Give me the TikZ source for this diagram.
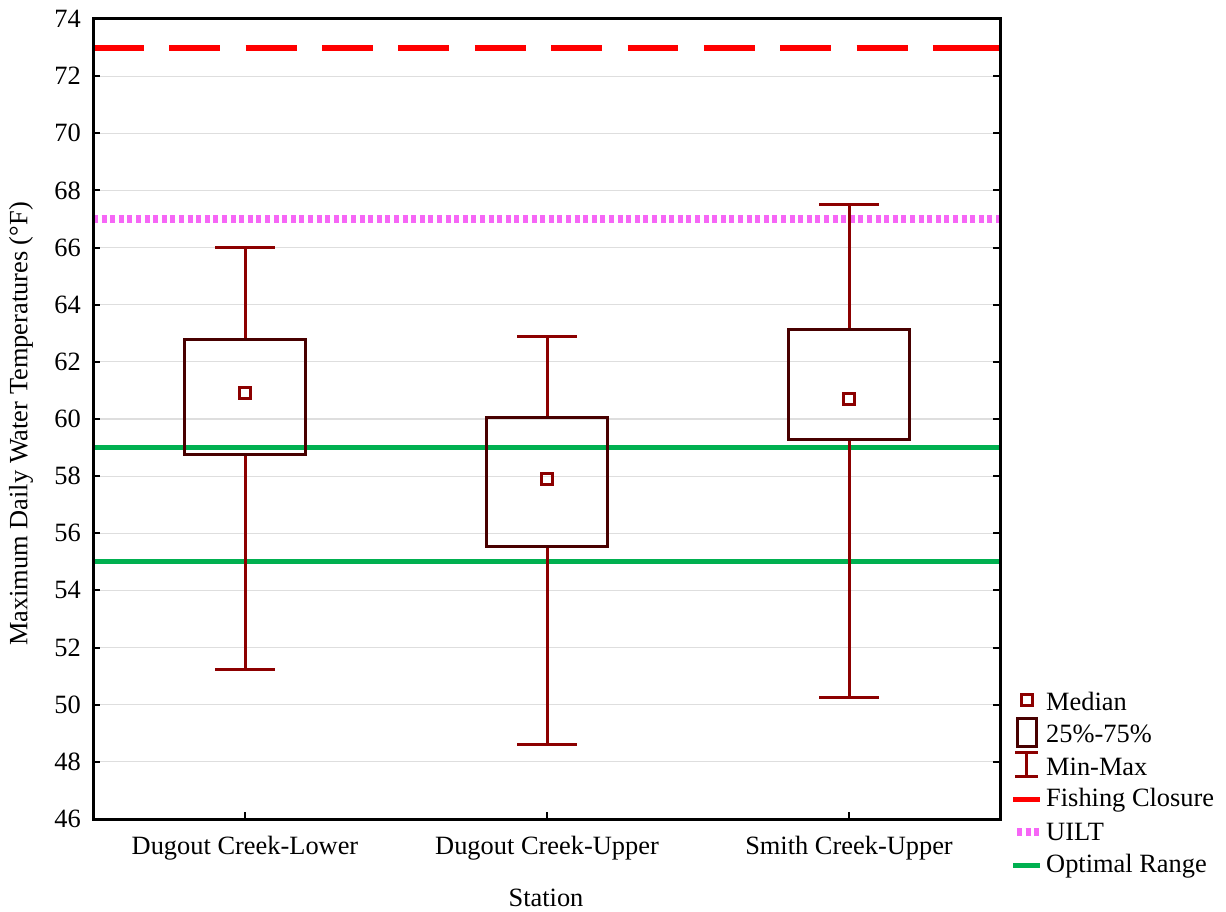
\documentclass[tikz,border=0pt]{standalone}
\usepackage{fontspec}
\setmainfont{Liberation Serif}
\definecolor{boxcol}{RGB}{72,0,0}
\definecolor{whiskcol}{RGB}{140,0,0}
\definecolor{medcol}{RGB}{140,0,0}
\definecolor{optgreen}{RGB}{0,176,80}
\definecolor{uiltcol}{RGB}{246,102,246}
\definecolor{gridcol}{RGB}{222,222,222}
\begin{document}
\begin{tikzpicture}[x=1pt,y=-1pt,
  declare function={ty(\v)=819-(\v-46)*28.5714;},
  lbl/.style={font=\fontsize{26.4}{30}\selectfont, inner sep=0pt},
  gridline/.style={draw=gridcol, line width=1.2},
  frameline/.style={draw=black, line width=3},
  fishline/.style={draw=red, line width=6, dash pattern=on 50.9 off 25.46},
  uiltline/.style={draw=uiltcol, line width=8, dash pattern=on 5 off 3.6},
  optline/.style={draw=optgreen, line width=5},
  boxst/.style={draw=boxcol, line width=3},
  whisk/.style={draw=whiskcol, line width=3},
  medst/.style={draw=medcol, line width=3},
]
\useasboundingbox (0,0) rectangle (1226,912);
\fill[white] (0,0) rectangle (1226,912);

% grid
\foreach \v in {48,50,...,72} {
  \draw[gridline] (93,{ty(\v)}) -- (1000,{ty(\v)});
}

% reference lines
\coordinate (fL) at (93,{ty(73)});
\coordinate (fM) at (984,{ty(73)});
\coordinate (fR) at (1002,{ty(73)});
\draw[fishline] (fL) -- (fM);
\draw[draw=red, line width=6] (fM) -- (fR);
\coordinate (uL) at (93,{ty(67)});
\coordinate (uR) at (1000,{ty(67)});
\draw[uiltline] (uL) -- (uR);
\coordinate (o1L) at (93,{ty(59)});
\coordinate (o1R) at (1000,{ty(59)});
\draw[optline] (o1L) -- (o1R);
\coordinate (o2L) at (93,{ty(55)});
\coordinate (o2R) at (1000,{ty(55)});
\draw[optline] (o2L) -- (o2R);

% box plots: center, min, q1, median, q3, max
\foreach \c/\mn/\qa/\md/\qb/\mx/\nm in {245/51.25/58.75/60.9/62.8/66.0/a, 547/48.6/55.55/57.9/60.05/62.9/b, 849/50.25/59.3/60.7/63.15/67.5/c} {
  \coordinate (top\nm) at (\c,{ty(\mx)});
  \coordinate (bot\nm) at (\c,{ty(\mn)});
  \coordinate (q3\nm) at (\c,{ty(\qb)});
  \coordinate (q1\nm) at (\c,{ty(\qa)});
  \draw[whisk] (top\nm) -- (q3\nm);
  \draw[whisk] (q1\nm) -- (bot\nm);
  \draw[whisk] ([xshift=-30]top\nm) -- ([xshift=30]top\nm);
  \draw[whisk] ([xshift=-30]bot\nm) -- ([xshift=30]bot\nm);
  \draw[boxst] ([xshift=-60.5]q1\nm) rectangle ([xshift=60.5]q3\nm);
  \draw[medst] ({\c-5.5},{ty(\md)-5.5}) rectangle ({\c+5.5},{ty(\md)+5.5});
}

% frame
\draw[frameline] (93,19) rectangle (1000,819);
\foreach \v in {48,50,...,72} {
  \draw[black, line width=2] (93,{ty(\v)}) -- (100,{ty(\v)});
  \draw[black, line width=2] (993,{ty(\v)}) -- (1000,{ty(\v)});
}
\foreach \v in {46,48,...,74} {
  \node[lbl, anchor=east] (yt\v) at (81,{ty(\v)}) {\v};
}
\foreach \c in {245,547,849} {
  \draw[black, line width=2] (\c,819) -- (\c,812);
}
\node[lbl] (xa) at (245,848) {Dugout Creek-Lower};
\node[lbl] (xb) at (547,848) {Dugout Creek-Upper};
\node[lbl] (xc) at (849,848) {Smith Creek-Upper};
\node[lbl] (xtitle) at (546,898) {Station};
\node[lbl, rotate=90] (ytitle) at (21,424) {Maximum Daily Water Temperatures (°F)};

% legend
\draw[medst] (1021.5,694.5) rectangle (1032.5,705.5);
\node[lbl, anchor=west] (lg1) at (1046,701) {Median};
\draw[boxst] (1017,718) rectangle (1036,746);
\node[lbl, anchor=west] (lg2) at (1046,734) {25\%-75\%};
\draw[whisk] (1026,752) -- (1026,776);
\draw[whisk] (1015,752) -- (1038,752);
\draw[whisk] (1015,776) -- (1038,776);
\node[lbl, anchor=west] (lg3) at (1046,767) {Min-Max};
\draw[draw=red, line width=5] (1013,799) -- (1040,799);
\node[lbl, anchor=west] (lg4) at (1046,800) {Fishing Closure};
\draw[uiltline] (1017,832) -- (1040,832);
\node[lbl, anchor=west] (lg5) at (1046,832) {UILT};
\draw[optline] (1013,865) -- (1040,865);
\node[lbl, anchor=west] (lg6) at (1046,866) {Optimal Range};
\end{tikzpicture}
\end{document}
